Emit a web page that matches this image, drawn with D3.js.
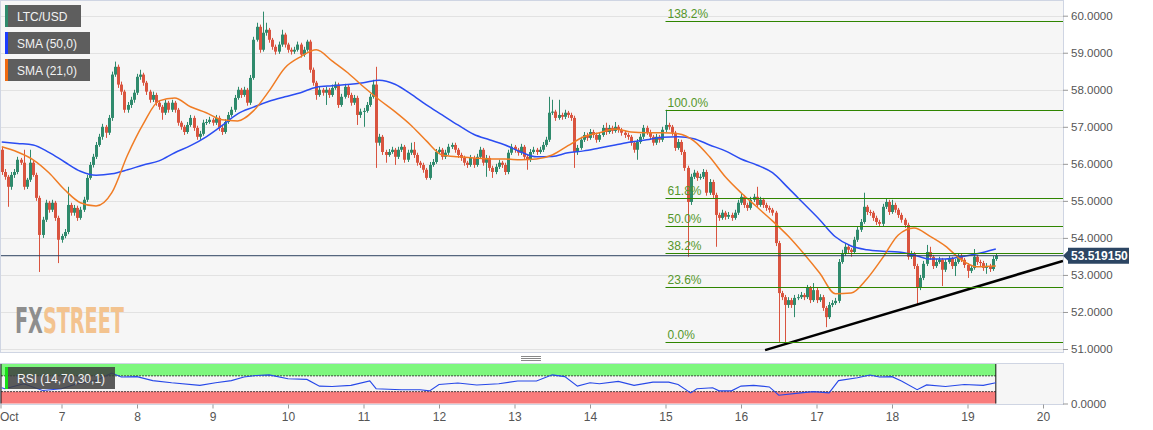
<!DOCTYPE html>
<html>
<head>
<meta charset="utf-8">
<script src="https://cdn.jsdelivr.net/npm/d3@7"></script>
<style>
  body { margin: 0; background: #fff; }
  text { font-family: Arial, "Liberation Sans", sans-serif; }
</style>
</head>
<body>
<svg id="chart"></svg>
<script>
// hourly LTC/USD candles, first one at Oct 6 05:00
const firstCandle = new Date(2019, 9, 6, 5);
const firstOpen = 56.38;
const closes = [
  55.78,55.65,55.38,55.70,55.78,56.11,56.03,55.38,55.57,56.03,
  55.70,55.08,54.08,54.49,54.95,54.76,54.95,54.54,53.95,54.05,
  54.16,54.89,54.68,54.81,54.54,54.76,55.03,55.62,55.97,56.19,
  56.51,56.73,57.00,56.84,57.24,58.41,58.62,58.14,57.95,57.46,
  57.59,57.73,57.92,58.35,58.41,58.19,57.95,57.73,57.86,57.65,
  57.54,57.38,57.65,57.46,57.65,57.46,57.11,57.00,56.86,57.05,
  57.24,56.97,56.73,56.81,57.11,57.13,57.19,57.11,57.24,56.97,
  56.86,57.13,57.32,57.46,57.78,58.00,57.86,58.00,57.65,58.32,
  59.35,59.70,59.08,59.54,59.62,59.35,59.16,59.03,59.22,59.49,
  59.22,59.08,59.03,59.08,59.22,58.95,59.08,59.30,58.54,58.19,
  57.86,58.00,57.92,58.00,57.86,58.05,58.14,57.59,57.81,58.08,
  57.86,57.65,57.78,57.32,57.41,57.43,57.59,57.81,58.14,56.57,
  56.73,56.32,56.24,56.32,56.38,56.19,56.38,56.46,56.11,56.30,
  56.38,56.24,56.03,55.97,55.84,55.62,55.97,56.05,56.32,56.38,
  56.19,56.30,56.46,56.51,56.38,56.24,56.16,56.03,55.97,56.16,
  55.97,56.19,56.38,56.03,56.16,55.89,55.78,55.92,56.03,55.97,
  55.78,56.30,56.46,56.38,56.30,56.46,56.19,56.11,56.32,56.38,
  56.32,56.38,56.51,56.65,57.38,57.41,57.24,57.32,57.27,57.38,
  57.32,57.24,56.32,56.43,56.65,56.78,56.70,56.86,56.78,56.65,
  56.78,56.97,56.86,56.97,56.89,57.00,56.92,56.84,56.78,56.73,
  56.57,56.38,56.59,56.73,56.97,56.86,56.73,56.57,56.73,56.65,
  56.92,57.05,57.00,56.84,56.43,56.59,56.32,55.89,54.97,55.65,
  55.76,55.62,55.65,55.78,55.22,55.51,55.16,54.62,54.54,54.68,
  54.57,54.62,54.54,54.68,54.95,55.11,54.89,54.81,55.03,55.11,
  54.89,55.03,54.89,54.81,54.76,54.68,53.86,52.51,52.40,52.19,
  52.32,52.19,52.38,52.40,52.46,52.40,52.65,52.32,52.59,52.32,
  52.40,52.11,51.86,52.19,52.24,52.30,53.35,53.59,53.76,53.68,
  53.62,53.95,54.22,54.43,54.84,54.70,54.68,54.54,54.43,54.38,
  54.84,54.97,54.70,54.89,54.76,54.62,54.49,54.35,53.49,53.57,
  53.24,52.65,52.92,53.30,53.62,53.49,53.24,53.35,53.41,53.14,
  53.35,53.43,53.24,53.35,53.51,53.41,53.27,53.11,53.19,53.49,
  53.35,53.32,53.19,53.24,53.16,53.43,53.52
];
const highs = [
  56.45,55.86,55.70,55.78,55.86,56.19,56.16,56.38,55.62,56.38,
  56.08,55.76,55.14,54.57,55.03,55.00,55.03,55.00,54.60,54.11,
  54.24,55.38,54.95,54.89,54.87,54.84,55.11,55.70,56.05,56.27,
  56.59,56.81,57.08,57.05,57.32,58.49,58.76,58.68,58.22,58.00,
  57.67,57.81,58.00,58.43,58.54,58.46,58.24,58.00,57.95,57.92,
  57.70,57.59,57.73,57.70,57.73,57.70,57.51,57.16,57.05,57.13,
  57.32,57.30,57.03,56.89,57.19,57.21,57.27,57.24,57.32,57.30,
  57.03,57.21,57.40,57.54,57.86,58.08,58.05,58.08,58.05,58.40,
  59.43,59.81,59.76,60.11,59.81,59.67,59.40,59.22,59.30,59.62,
  59.54,59.27,59.14,59.16,59.30,59.27,59.16,59.35,59.35,58.60,
  58.24,58.08,58.05,58.08,58.05,58.14,58.22,58.19,57.89,58.16,
  58.14,57.92,57.86,57.84,57.49,57.51,57.67,57.89,58.27,58.62,
  56.81,56.78,56.38,56.40,56.46,56.43,56.46,56.54,56.51,56.38,
  56.57,56.59,56.30,56.08,56.03,55.89,56.05,56.13,56.40,56.46,
  56.43,56.38,56.54,56.57,56.57,56.43,56.30,56.22,56.08,56.24,
  56.22,56.27,56.46,56.43,56.24,56.22,55.95,56.00,56.11,56.08,
  56.03,56.38,56.54,56.51,56.43,56.54,56.51,56.24,56.40,56.46,
  56.43,56.46,56.59,56.73,57.81,57.73,57.46,57.73,57.38,57.46,
  57.43,57.38,57.30,56.51,56.73,56.86,56.84,56.94,56.92,56.84,
  56.86,57.05,57.11,57.05,57.03,57.13,57.05,56.97,56.89,56.84,
  56.78,56.62,56.67,56.81,57.05,57.03,56.92,56.78,56.81,56.78,
  57.00,57.46,57.11,57.05,56.89,56.67,56.65,56.38,55.95,55.73,
  55.84,55.81,55.73,55.86,55.84,55.59,55.57,55.22,54.68,54.76,
  54.73,54.70,54.68,54.76,55.03,55.19,55.16,54.95,55.11,55.19,
  55.38,55.11,55.08,54.95,54.87,54.81,54.73,53.92,52.57,52.46,
  52.40,52.38,52.46,52.48,52.54,52.51,52.73,52.70,52.78,52.65,
  52.48,52.46,52.16,52.27,52.32,52.38,53.43,53.68,53.86,53.81,
  53.73,54.03,54.30,54.51,55.22,54.89,54.76,54.73,54.60,54.49,
  54.92,55.05,55.03,55.03,54.95,54.81,54.68,54.54,54.41,53.65,
  53.62,53.30,53.00,53.38,53.81,53.76,53.54,53.43,53.49,53.46,
  53.43,53.51,53.49,53.43,53.59,53.57,53.46,53.32,53.27,53.70,
  53.54,53.41,53.38,53.32,53.30,53.51,53.59
];
const lows = [
  55.70,55.57,54.84,55.30,55.62,55.72,55.97,55.30,55.32,55.51,
  55.65,55.00,53.08,54.00,54.43,54.68,54.70,54.46,53.32,53.87,
  53.99,54.10,54.60,54.60,54.46,54.49,54.70,54.97,55.57,55.90,
  56.13,56.46,56.65,56.70,56.78,57.16,58.35,58.05,57.86,57.38,
  57.38,57.51,57.65,57.86,58.27,58.11,57.86,57.65,57.67,57.57,
  57.46,57.19,57.32,57.38,57.40,57.38,57.03,56.92,56.78,56.81,
  57.00,56.89,56.65,56.65,56.76,57.05,57.08,57.03,57.05,56.89,
  56.78,56.81,57.08,57.27,57.40,57.73,57.78,57.81,57.57,57.59,
  58.27,59.30,59.00,59.03,59.46,59.27,59.08,58.95,58.97,59.16,
  59.14,59.00,58.95,58.97,59.03,58.87,58.89,59.03,58.46,58.11,
  57.73,57.81,57.84,57.59,57.78,57.81,58.00,57.51,57.54,57.76,
  57.78,57.57,57.59,57.05,57.24,57.00,57.38,57.54,57.76,55.89,
  56.49,56.24,56.03,56.19,56.27,55.97,56.13,56.32,56.03,56.05,
  56.24,56.16,55.95,55.89,55.76,55.57,55.57,55.92,56.00,56.27,
  56.11,56.13,56.24,56.40,56.30,56.16,56.08,55.95,55.89,55.92,
  55.89,55.92,56.13,55.95,55.65,55.81,55.62,55.72,55.86,55.89,
  55.70,55.72,56.24,56.30,56.22,56.24,56.11,55.84,56.05,56.27,
  56.24,56.27,56.32,56.46,56.59,57.32,57.16,57.19,57.19,57.21,
  57.24,57.16,55.89,56.24,56.38,56.59,56.62,56.65,56.70,56.57,
  56.59,56.73,56.78,56.81,56.81,56.84,56.84,56.76,56.70,56.65,
  56.49,56.30,56.11,56.54,56.67,56.78,56.65,56.49,56.51,56.57,
  56.59,56.86,56.92,56.76,56.35,56.38,56.24,55.81,53.49,54.89,
  55.59,55.54,55.57,55.59,55.14,55.16,55.08,53.76,54.46,54.49,
  54.49,54.51,54.46,54.49,54.62,54.89,54.81,54.73,54.76,54.97,
  54.81,54.84,54.81,54.73,54.68,54.60,53.78,51.19,52.32,51.19,
  52.11,52.11,51.86,52.32,52.35,52.32,52.35,52.24,52.27,52.24,
  52.27,52.03,51.59,51.81,52.13,52.19,52.24,53.30,53.51,53.59,
  53.49,53.57,53.89,54.16,54.38,54.62,54.60,54.46,54.35,54.30,
  54.32,54.78,54.62,54.65,54.68,54.54,54.41,54.27,53.41,53.43,
  53.16,52.19,52.59,52.86,53.24,53.41,53.16,53.19,53.30,52.70,
  53.08,53.30,53.16,52.97,53.30,53.35,53.19,52.92,53.05,53.14,
  53.27,53.24,53.11,53.03,53.08,53.11,53.38
];

// moving averages read at every 5th candle (candle index -> value)
const smaIdx = [0,5,10,15,20,25,30,35,40,45,50,55,60,65,70,75,80,85,90,95,
  100,105,110,115,120,125,130,135,140,145,150,155,160,165,170,175,180,185,190,195,
  200,205,210,215,220,225,230,235,240,245,250,255,260,265,270,275,280,285,290,295,
  300,305,310,316];
const sma50 = [56.59,56.55,56.51,56.31,56.05,55.80,55.69,55.73,55.84,55.97,
  56.08,56.30,56.49,56.73,57.03,57.35,57.53,57.69,57.81,57.92,
  58.07,58.11,58.14,58.19,58.26,58.15,57.89,57.59,57.32,57.05,
  56.80,56.65,56.51,56.32,56.19,56.20,56.30,56.35,56.43,56.51,
  56.59,56.65,56.72,56.73,56.68,56.51,56.35,56.13,55.97,55.76,
  55.35,54.92,54.49,54.03,53.78,53.68,53.64,53.62,53.54,53.43,
  53.43,53.49,53.57,53.70];
const sma21 = [56.46,56.32,56.11,55.76,55.30,54.95,54.86,55.22,56.24,57.08,
  57.70,57.78,57.54,57.38,57.19,57.16,57.43,57.97,58.59,58.89,
  59.08,58.78,58.46,58.08,57.73,57.41,57.05,56.62,56.24,56.19,
  56.16,56.13,56.13,56.11,56.13,56.24,56.49,56.73,56.84,56.94,
  56.86,56.84,56.84,56.81,56.62,56.19,55.65,55.22,54.84,54.46,
  54.05,53.57,53.05,52.49,52.51,52.89,53.46,54.08,54.27,54.05,
  53.78,53.41,53.22,53.24];

// RSI (14)
const rsiIdx = [0,1,7,13,19,24,30,35,38,43,48,54,63,68,73,77,81,85,91,97,
  101,105,111,117,119,127,133,136,139,145,151,158,164,170,175,179,183,187,190,196,
  201,207,212,215,219,221,226,228,232,235,239,244,247,254,258,263,266,272,276,279,
  283,286,291,294,300,306,312,316];
const rsiVals = [40,37.5,50,33,37.5,50,58,77,67,68,58,52.5,46,52.5,58,67,71,72.5,62.5,61,
  44,43,46,57,37.5,35,35,32,48,52,47,50,57,57,72.5,68,44,52.5,50,56,
  46,54,54,48,26.7,37.5,40,32,32,44,46,42,21,27,30,27,58,65,72,67,
  68,57,35,47,43,48,46,52.5];

// Fibonacci retracement
const fibLow = 51.19;
const fibHigh = 57.46;
const fibLevels = [0, 23.6, 38.2, 50, 61.8, 100, 138.2];
const fibLabels = ['0.0%', '23.6%', '38.2%', '50.0%', '61.8%', '100.0%', '138.2%'];
const fibStart = new Date(2019, 9, 15, 0);

// support trendline and last price
const trendTimes = [new Date(2019, 9, 16, 7, 40), new Date(2019, 9, 20, 6, 20)];
const trendPrices = [50.97, 53.38];
const lastPrice = 53.51915;

const priceTicks = [51, 52, 53, 54, 55, 56, 57, 58, 59, 60];
const legendLabels = ['LTC/USD', 'SMA (50,0)', 'SMA (21,0)'];

const width = 1153, height = 430;
const plotRight = 1063, plotTop = 1, plotBottom = 353;
const rsiTop = 363, rsiBottom = 404;

const svg = d3.select('#chart').attr('width', width).attr('height', height);

const x = d3.scaleTime()
  .domain([new Date(2019, 9, 6), new Date(2019, 9, 20)])
  .range([-14, 1043]);
const y = d3.scaleLinear().domain([51, 60]).range([349, 15.7]);
const yr = d3.scaleLinear().domain([0, 100]).range([403.5, 364]);

const tOf = (i) => d3.timeHour.offset(firstCandle, i);

svg.append('defs').append('clipPath').attr('id', 'plotClip')
  .append('rect').attr('x', 0).attr('y', plotTop)
  .attr('width', plotRight).attr('height', plotBottom - plotTop);

// panels
svg.append('rect').attr('x', 0.5).attr('y', plotTop - 0.5)
  .attr('width', plotRight).attr('height', plotBottom - plotTop)
  .attr('fill', '#f6f6f6').attr('stroke', '#cfd5e3');
svg.append('rect').attr('x', 0.5).attr('y', rsiTop + 0.5)
  .attr('width', plotRight).attr('height', rsiBottom - rsiTop)
  .attr('fill', '#f6f6f6').attr('stroke', '#cfd5e3');

// grid
svg.append('g').selectAll('line').data(priceTicks).enter().append('line')
  .attr('x1', 1).attr('x2', plotRight)
  .attr('y1', (d) => Math.round(y(d)) + 0.5).attr('y2', (d) => Math.round(y(d)) + 0.5)
  .attr('stroke', '#e2e2e2');

// FXSTREET watermark: one text, squeezed horizontally to the logo width
const wmG = svg.append('g');
const wm = wmG.append('text').attr('x', 0).attr('y', 0)
  .style('font-family', '"Liberation Sans Narrow","DejaVu Sans Condensed",Arial')
  .style('font-weight', 'bold').style('font-size', '36px');
wm.append('tspan').attr('fill', '#8e8e8e').text('FX');
wm.append('tspan').attr('fill', '#f3c38f').text('STREET');
const wmLen = wm.node().getComputedTextLength();
wmG.attr('transform', `translate(15,333) scale(${109 / wmLen},1)`);

const main = svg.append('g').attr('clip-path', 'url(#plotClip)');

// candles
const candles = closes.map((c, i) => ({
  t: tOf(i),
  o: i === 0 ? firstOpen : closes[i - 1],
  c,
  h: highs[i],
  l: lows[i],
}));
const cg = main.append('g');
cg.selectAll('.wick').data(candles).enter().append('line')
  .attr('class', 'wick')
  .attr('x1', (d) => Math.round(x(d.t)) + 0.5).attr('x2', (d) => Math.round(x(d.t)) + 0.5)
  .attr('y1', (d) => y(d.h)).attr('y2', (d) => y(d.l))
  .attr('stroke', (d) => (d.c >= d.o ? '#2f8a6c' : '#d9543f'));
cg.selectAll('.body').data(candles).enter().append('rect')
  .attr('class', 'body')
  .attr('x', (d) => Math.round(x(d.t)) - 1)
  .attr('width', 3)
  .attr('y', (d) => y(Math.max(d.o, d.c)))
  .attr('height', (d) => Math.max(1, Math.abs(y(d.o) - y(d.c))))
  .attr('fill', (d) => (d.c >= d.o ? '#2f8a6c' : '#d9543f'));

// moving averages
const maLine = (vals) => d3.line()
  .x((d, i) => x(tOf(smaIdx[i])))
  .y((d) => y(d))
  .curve(d3.curveMonotoneX)(vals);
main.append('path').attr('d', maLine(sma50)).attr('fill', 'none')
  .attr('stroke', '#2b4df2').attr('stroke-width', 1.5);
main.append('path').attr('d', maLine(sma21)).attr('fill', 'none')
  .attr('stroke', '#f07c24').attr('stroke-width', 1.5);

// fibonacci levels
const fg = svg.append('g');
fibLevels.forEach((lv, k) => {
  const p = fibLow + (fibHigh - fibLow) * lv / 100;
  const yy = Math.round(y(p)) + 0.5;
  fg.append('line').attr('x1', x(fibStart)).attr('x2', plotRight)
    .attr('y1', yy).attr('y2', yy)
    .attr('stroke', '#2f8500').attr('stroke-width', 1.2);
  fg.append('text').attr('x', x(fibStart) + 2).attr('y', yy - 4)
    .style('font-size', '12px').attr('fill', '#55962a').text(fibLabels[k]);
});

// last price line
svg.append('line').attr('x1', 1).attr('x2', plotRight)
  .attr('y1', y(lastPrice)).attr('y2', y(lastPrice))
  .attr('stroke', '#2c4260').attr('stroke-width', 1);

// trendline
main.append('line')
  .attr('x1', x(trendTimes[0])).attr('y1', y(trendPrices[0]))
  .attr('x2', x(trendTimes[1])).attr('y2', y(trendPrices[1]))
  .attr('stroke', '#000').attr('stroke-width', 2.5);

// legend
legendLabels.forEach((lab, k) => {
  const colors = ['#2f8a6c', '#1b3cff', '#f06a10'];
  const top = 5 + k * 27;
  const w = k === 0 ? 76 : 85;
  svg.append('rect').attr('x', 5).attr('y', top).attr('width', w).attr('height', 22)
    .attr('fill', '#5e5e5e');
  svg.append('rect').attr('x', 5).attr('y', top).attr('width', 3).attr('height', 22)
    .attr('fill', colors[k]);
  svg.append('text').attr('x', 17).attr('y', top + 15.5)
    .style('font-size', '12px').attr('fill', '#f2f2f2').text(lab);
});

// price axis
const yAxis = svg.append('g').attr('transform', `translate(${plotRight},0)`)
  .call(d3.axisRight(y).tickValues(priceTicks).tickSize(5).tickPadding(3)
    .tickFormat(d3.format('.4f')));
yAxis.select('.domain').remove();
yAxis.selectAll('line').attr('stroke', '#999');
yAxis.selectAll('text').style('font-size', '11.5px').attr('fill', '#555');

// last price label
const ly = y(lastPrice);
svg.append('path')
  .attr('d', `M${plotRight},${ly} L${plotRight + 5},${ly - 5} L${plotRight + 5},${ly - 8} L${plotRight + 66},${ly - 8} L${plotRight + 66},${ly + 8} L${plotRight + 5},${ly + 8} L${plotRight + 5},${ly + 5} Z`)
  .attr('fill', '#2c4563');
svg.append('text').attr('x', plotRight + 8).attr('y', ly + 4.5)
  .style('font-size', '12px').style('font-weight', 'bold').attr('fill', '#fff')
  .text(d3.format('.6f')(lastPrice));

// panel divider handle
[356, 358, 360].forEach((hy) => {
  svg.append('line').attr('x1', 521).attr('x2', 541).attr('y1', hy + 0.5).attr('y2', hy + 0.5)
    .attr('stroke', '#888');
});

// RSI panel
const rsiEnd = x(tOf(closes.length - 1));
svg.append('rect').attr('x', 1).attr('y', yr(100)).attr('width', rsiEnd - 1)
  .attr('height', yr(70) - yr(100)).attr('fill', '#7ef77e');
svg.append('rect').attr('x', 1).attr('y', yr(30)).attr('width', rsiEnd - 1)
  .attr('height', yr(0) - yr(30)).attr('fill', '#f87b7b');
[70, 30].forEach((lv) => {
  svg.append('line').attr('x1', 1).attr('x2', rsiEnd).attr('y1', yr(lv)).attr('y2', yr(lv))
    .attr('stroke', '#222').attr('stroke-dasharray', '2,1').attr('stroke-width', 0.8);
});
[1, rsiEnd].forEach((vx) => {
  svg.append('line').attr('x1', vx).attr('x2', vx).attr('y1', yr(100)).attr('y2', yr(0))
    .attr('stroke', '#111');
});
svg.append('path')
  .attr('d', d3.line().x((d, i) => x(tOf(rsiIdx[i]))).y((d) => yr(d))(rsiVals))
  .attr('fill', 'none').attr('stroke', '#2748e8').attr('stroke-width', 1.1);

svg.append('rect').attr('x', 7).attr('y', 367).attr('width', 108).attr('height', 22)
  .attr('fill', 'rgba(62,62,62,0.85)');
svg.append('rect').attr('x', 5).attr('y', 367).attr('width', 3).attr('height', 22)
  .attr('fill', '#18e018');
svg.append('text').attr('x', 17).attr('y', 382.5)
  .style('font-size', '12px').attr('fill', '#f2f2f2').text('RSI (14,70,30,1)');

const rAxis = svg.append('g').attr('transform', `translate(${plotRight},0)`)
  .call(d3.axisRight(yr).tickValues([0]).tickSize(5).tickPadding(3)
    .tickFormat(d3.format('.4f')));
rAxis.select('.domain').remove();
rAxis.selectAll('line').attr('stroke', '#999');
rAxis.selectAll('text').style('font-size', '11.5px').attr('fill', '#555');

// time axis
const xAxis = svg.append('g').attr('transform', `translate(0,${rsiBottom + 0.5})`)
  .call(d3.axisBottom(x).ticks(d3.timeDay.every(1)).tickSize(4).tickPadding(4)
    .tickFormat((d) => (d.getDate() === 6 ? 'Oct' : d.getDate())));
xAxis.select('.domain').remove();
xAxis.selectAll('line').attr('stroke', '#999');
xAxis.selectAll('text').style('font-size', '12px').attr('fill', '#555');
xAxis.selectAll('.tick').filter((d) => x(d) < 0)
  .attr('transform', 'translate(1,0)')
  .select('text').attr('text-anchor', 'start').attr('x', -1);
</script>
</body>
</html>
